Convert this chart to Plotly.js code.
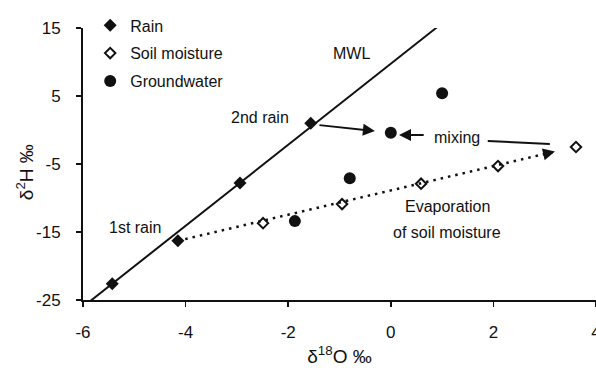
<!DOCTYPE html>
<html>
<head>
<meta charset="utf-8">
<script src="https://cdn.plot.ly/plotly-3.0.1.min.js"></script>
<style>html,body{margin:0;padding:0;background:#fff;}#chart{width:596px;height:371px;}</style>
</head>
<body>
<div id="chart"></div>
<script>
// Data
const rainX = [-5.43, -4.15, -2.94, -1.56];
const rainY = [-22.6, -16.3, -7.8, 1.0];
const soilX = [-2.49, -0.95, 0.59, 2.09, 3.61];
const soilY = [-13.7, -10.9, -7.9, -5.3, -2.5];
const gwX = [-1.87, -0.8, 0.0, 1.0];
const gwY = [-13.4, -7.1, -0.4, 5.4];
const mwlX = [-6.0, 0.9];
const mwlY = [-26.0, 15.1];
const evapX = [-4.15, 3.16];
const evapY = [-16.3, -3.24];
const xTicks = [-6, -4, -2, 0, 2, 4];
const yTicks = [-25, -15, -5, 5, 15];
const labelText = ["MWL", "2nd rain", "1st rain", "mixing", "Evaporation", "of soil moisture"];
const labelX = [-0.76, -2.55, -4.99, 1.29, 1.10, 1.10];
const labelY = [11.3, 1.9, -14.4, -1.03, -11.3, -15.0];
// arrows: tail and head points
const arrowTail = [[-1.42, 0.74], [0.67, -0.74], [2.96, -3.6]];
const arrowHead = [[-0.31, -0.15], [0.16, -0.74], [3.2, -3.17]];
const mixLine = [[1.89, -1.62], [3.10, -2.06]];

const ink = '#111';
const fnt = 'Arial, "Liberation Sans", sans-serif';

const traces = [
  {x: mwlX, y: mwlY, mode: 'lines', line: {color: ink, width: 2}, showlegend: false, cliponaxis: false, hoverinfo: 'skip'},
  {x: evapX, y: evapY, mode: 'lines', line: {color: ink, width: 2.5, dash: '2.5px,5px'}, showlegend: false, hoverinfo: 'skip'},
  {x: rainX, y: rainY, mode: 'markers', name: 'Rain', legendgroup: 'a',
   marker: {symbol: 'diamond', size: 10, color: ink}, cliponaxis: false},
  {x: soilX, y: soilY, mode: 'markers', name: 'Soil moisture', legendgroup: 'b',
   marker: {symbol: 'diamond-open', size: 8, color: ink, line: {width: 2, color: ink}}, cliponaxis: false},
  {x: gwX, y: gwY, mode: 'markers', name: 'Groundwater', legendgroup: 'c',
   marker: {symbol: 'circle', size: 12, color: ink}, cliponaxis: false}
];

const annotations = labelText.map((t, i) => ({
  x: labelX[i], y: labelY[i], xref: 'x', yref: 'y', text: t, showarrow: false,
  font: {family: fnt, size: 16, color: ink}
}));
arrowTail.forEach((t, i) => {
  annotations.push({
    x: arrowHead[i][0], y: arrowHead[i][1], ax: t[0], ay: t[1],
    xref: 'x', yref: 'y', axref: 'x', ayref: 'y', text: '', showarrow: true,
    arrowhead: 2, arrowsize: 1.2, arrowwidth: 2, arrowcolor: ink
  });
});
// y-axis title placed to match the reference
annotations.push({
  x: -0.113, y: 0.47, xref: 'paper', yref: 'paper', xanchor: 'center', yanchor: 'middle',
  text: 'δ<sup>2</sup>H ‰', textangle: -90, showarrow: false,
  font: {family: fnt, size: 19, color: ink}
});

const shapes = [{
  type: 'line', xref: 'x', yref: 'y',
  x0: mixLine[0][0], y0: mixLine[0][1], x1: mixLine[1][0], y1: mixLine[1][1],
  line: {color: ink, width: 2}
}];

const layout = {
  width: 596, height: 371,
  margin: {l: 83, r: 0, t: 28, b: 71},
  paper_bgcolor: '#fff', plot_bgcolor: '#fff',
  font: {family: fnt, color: ink},
  showlegend: true,
  legend: {x: 0.014, y: 1.072, xanchor: 'left', yanchor: 'top', bgcolor: 'rgba(0,0,0,0)',
           font: {family: fnt, size: 16, color: ink}, tracegroupgap: 4, itemwidth: 30},
  xaxis: {
    range: [-6, 4], tickvals: xTicks, ticktext: xTicks.map(String),
    showline: true, linecolor: ink, linewidth: 2, showgrid: false, zeroline: false,
    ticks: 'outside', ticklen: 5, tickwidth: 1.5, tickcolor: ink,
    tickfont: {family: fnt, size: 17, color: ink}, ticklabelstandoff: 11,
    ticklabeloverflow: 'allow',
    title: {text: 'δ<sup>18</sup>O ‰', font: {family: fnt, size: 19, color: ink}, standoff: 8}
  },
  yaxis: {
    range: [-25, 15], tickvals: yTicks, ticktext: yTicks.map(String),
    showline: true, linecolor: ink, linewidth: 2, showgrid: false, zeroline: false,
    ticks: 'outside', ticklen: 5, tickwidth: 1.5, tickcolor: ink,
    tickfont: {family: fnt, size: 17, color: ink}, ticklabelstandoff: 12
  },
  annotations: annotations,
  shapes: shapes
};

Plotly.newPlot('chart', traces, layout, {displayModeBar: false, staticPlot: true});
</script>
</body>
</html>
